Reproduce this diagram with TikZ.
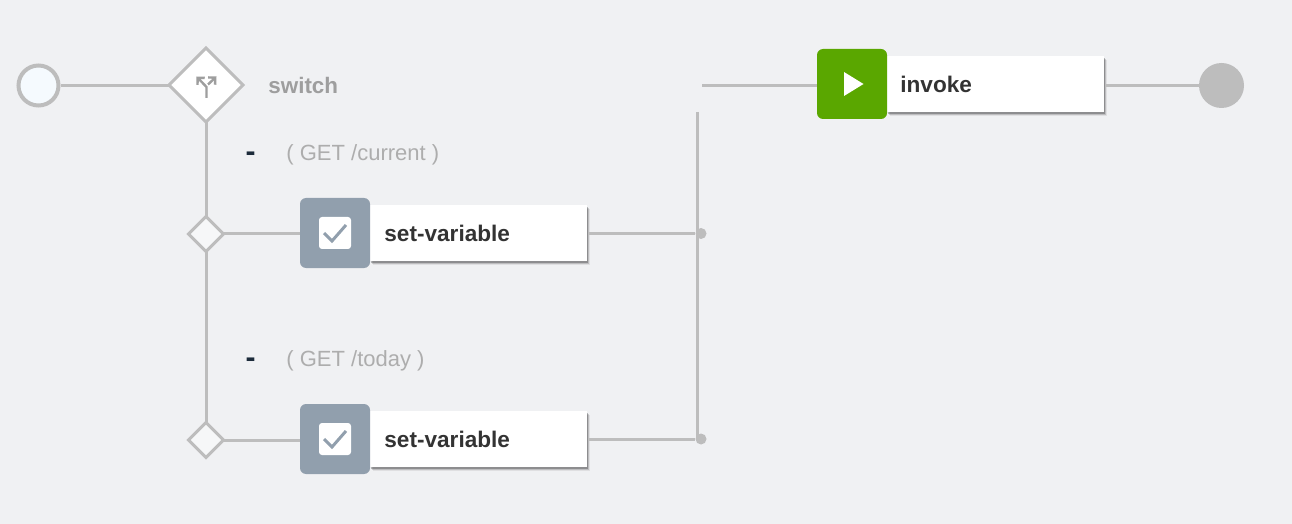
\documentclass[tikz,border=0pt]{standalone}
\usepackage{fontspec}
\setmainfont{Liberation Sans}
\usetikzlibrary{shapes.geometric,shadows,arrows.meta}

\definecolor{pagebg}{HTML}{F0F1F3}
\definecolor{flowline}{HTML}{BDBDBD}
\definecolor{slate}{HTML}{919FAD}
\definecolor{playgreen}{HTML}{5AA700}
\definecolor{inkdash}{HTML}{1C2B3A}
\definecolor{startfill}{HTML}{F5FAFE}

\tikzset{
    flow/.style={draw=flowline, line width=1.5pt},
    gateway/.style={diamond, aspect=1, draw=flowline, line width=1.5pt, fill=white, inner sep=0pt, outer sep=0pt, minimum size=37pt},
    branch/.style={diamond, aspect=1, draw=flowline, line width=1.5pt, fill=pagebg!60!white, inner sep=0pt, outer sep=0pt, minimum size=17.5pt},
    card/.style={rectangle, fill=white, inner xsep=7pt, inner ysep=0pt, text width=94.5pt, minimum height=28pt, text=black!80, font=\fontsize{11.3}{13}\selectfont\bfseries, anchor=west, align=left, text height=8.5pt, text depth=0pt,
        drop shadow={shadow xshift=1.2pt, shadow yshift=-1.8pt, fill=black, opacity=.07},
        drop shadow={shadow xshift=0.9pt, shadow yshift=-1.3pt, fill=black, opacity=.15},
        drop shadow={shadow xshift=0.5pt, shadow yshift=-0.8pt, fill=black, opacity=.25}},
    iconbox/.style={rectangle, rounded corners=3pt, inner sep=0pt, minimum size=35pt},
    checkbox/.style={rectangle, rounded corners=1.5pt, fill=white, inner sep=0pt, minimum size=16pt},
    dot/.style={circle, fill=flowline, inner sep=0pt, minimum size=5.5pt},
    caseLabel/.style={text=black!32, font=\fontsize{11}{13}\selectfont, anchor=west, inner sep=0pt},
    dashLabel/.style={text=inkdash, font=\fontsize{15}{15}\selectfont\bfseries, inner sep=0pt}
}

\begin{document}
\begin{tikzpicture}[x=0.5pt, y=-0.5pt]
    \fill[pagebg] (0,0) rectangle (1292,524);

    % start, switch and end
    \node[circle, draw=flowline, line width=2pt, fill=startfill, inner sep=0pt, minimum size=20pt] (start) at (38.5,85.5) {};
    \node[gateway] (switch) at (206,85) {};
    \node[circle, fill=flowline, inner sep=0pt, minimum size=22.5pt] (stop) at (1221.5,85.5) {};
    \node[text=black!38, font=\fontsize{11.2}{13}\selectfont\bfseries, anchor=west, inner sep=0pt] (switchLabel) at (268,85.5) {switch};

    % fork icon
    \draw[black!38, line width=1.2pt, -{Straight Barb[length=2.5pt, width=5pt]}] (206.5,98) -- (206.5,87) -- (196.5,76.5);
    \draw[black!38, line width=1.2pt, -{Straight Barb[length=2.5pt, width=5pt]}] (208,84.5) -- (216.5,76.5);

    % first case
    \node[dashLabel] (dashA) at (250.5,157) {-};
    \node[caseLabel] (caseA) at (286,155) {( GET /current )};
    \node[branch] (branchA) at (206,234) {};
    \node[card] (cardA) at (370,233) {set-variable};
    \node[iconbox, fill=slate] (iconA) at (335,233) {};
    \node[checkbox] (checkA) at (335,233) {};
    \draw[slate, line width=1.5pt] (324,233) -- (332,241) -- (346,225);
    \node[dot] (dotA) at (701,233.5) {};

    % second case
    \node[dashLabel] (dashB) at (250.5,363) {-};
    \node[caseLabel] (caseB) at (286,361) {( GET /today )};
    \node[branch] (branchB) at (206,440) {};
    \node[card] (cardB) at (370,439) {set-variable};
    \node[iconbox, fill=slate] (iconB) at (335,439) {};
    \node[checkbox] (checkB) at (335,439) {};
    \draw[slate, line width=1.5pt] (324,439) -- (332,447) -- (346,431);
    \node[dot] (dotB) at (701,439) {};

    % invoke
    \node[card, inner xsep=6.5pt, text width=95.5pt, text height=9pt] (cardC) at (887,84) {invoke};
    \node[iconbox, fill=playgreen] (iconC) at (852,84) {};
    \fill[white] (844,72) -- (863.5,84) -- (844,96) -- cycle;

    % connectors
    \coordinate (railTop) at (697.5,112);
    \coordinate (railEnd) at (697.5,439);
    \coordinate (merge) at (702,85.5);
    \draw[flow] (start) -- (start -| switch.west);
    \draw[flow] (switch) -- (branchA);
    \draw[flow] (branchA) -- (branchB);
    \draw[flow] (branchA) -- (branchA -| iconA.west);
    \draw[flow] (branchB) -- (branchB -| iconB.west);
    \draw[flow] (cardA.east |- dotA) -- (dotA);
    \draw[flow] (cardB.east |- dotB) -- (dotB);
    \draw[flow] (railTop) -- (railEnd);
    \draw[flow] (merge) -- (merge -| iconC.west);
    \draw[flow] (cardC.east |- stop) -- (stop);
\end{tikzpicture}
\end{document}
